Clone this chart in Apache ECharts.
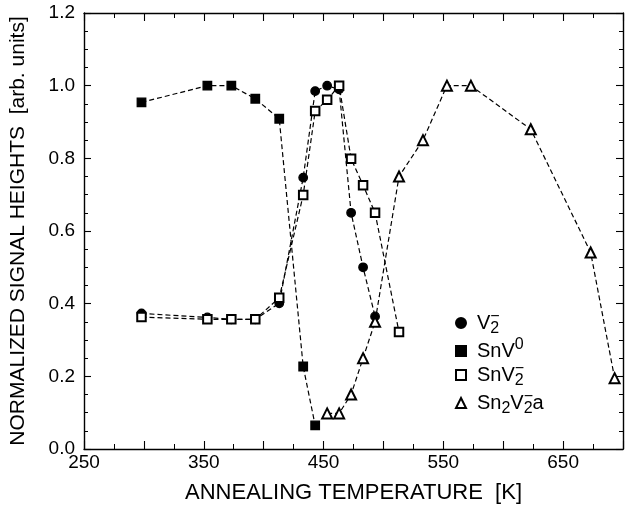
<!DOCTYPE html>
<html>
<head>
<meta charset="utf-8">
<script src="https://cdn.jsdelivr.net/npm/echarts@6/dist/echarts.min.js"></script>
<style>
    html, body { margin: 0; padding: 0; background: #fff; }
    #chart { width: 625px; height: 510px; }
</style>
</head>
<body>
<div id="chart"></div>
<script>
// temperatures [K] and normalized heights
const tempV2 = [298, 353, 373, 393, 413, 433, 443, 453, 463, 473, 483, 493]
const heightV2 = [0.373, 0.362, 0.357, 0.357, 0.401, 0.747, 0.985, 1.0, 0.99, 0.65, 0.50, 0.365]

const tempSnV0 = [298, 353, 373, 393, 413, 433, 443]
const heightSnV0 = [0.954, 1.0, 1.0, 0.964, 0.909, 0.227, 0.065]

const tempSnV2 = [298, 353, 373, 393, 413, 433, 443, 453, 463, 473, 483, 493, 513]
const heightSnV2 = [0.363, 0.357, 0.357, 0.357, 0.416, 0.699, 0.930, 0.961, 1.0, 0.799, 0.726, 0.65, 0.322]

const tempSn2V2a = [453, 463, 473, 483, 493, 513, 533, 553, 573, 623, 673, 693]
const heightSn2V2a = [0.098, 0.098, 0.15, 0.25, 0.35, 0.75, 0.85, 1.0, 1.0, 0.88, 0.541, 0.195]

const xTickLabels = [250, 350, 450, 550, 650]

const FONT = '"Liberation Sans", Arial, Helvetica, sans-serif'

const zip = (xs, ys) => xs.map((x, i) => [x, ys[i]])

const legendText = {
    V2: '{m|V}{sup0|−}{sub|2}',
    SnV0: '{m|SnV}{sup|0}',
    SnV2: '{m|SnV}{sup0|−}{sub|2}',
    Sn2V2a: '{m|Sn}{sub|2}{m|V}{sup0|−}{sub|2}{m|a}',
}

const baseLine = {
    type: 'line',
    symbolSize: 8.5,
    showAllSymbol: true,
    lineStyle: { color: '#000', width: 1.2, type: [5, 3] },
    itemStyle: { color: '#000', borderColor: '#000', borderWidth: 1.3 },
    emphasis: { disabled: true },
    z: 3,
}

const xAxisBase = {
    type: 'value',
    min: 250,
    max: 700,
    interval: 50,
    axisLine: { show: true, onZero: false, lineStyle: { color: '#000', width: 1.4 } },
    axisTick: { show: true, inside: true, length: 8, lineStyle: { color: '#000', width: 1.1 } },
    minorTick: { show: true, splitNumber: 2, length: 5, lineStyle: { color: '#000', width: 1 } },
    splitLine: { show: false },
}

const yAxisBase = {
    type: 'value',
    min: 0,
    max: 1.2,
    interval: 0.2,
    axisLine: { show: true, onZero: false, lineStyle: { color: '#000', width: 1.4 } },
    axisTick: { show: true, inside: true, length: 7, lineStyle: { color: '#000', width: 1.1 } },
    minorTick: { show: true, splitNumber: 4, length: 4, lineStyle: { color: '#000', width: 1 } },
    splitLine: { show: false },
}

const chart = echarts.init(document.getElementById('chart'))
chart.setOption({
    backgroundColor: '#fff',
    animation: false,
    textStyle: { fontFamily: FONT },
    grid: { left: 83, right: 2, top: 13, bottom: 61, containLabel: false },
    xAxis: [
        {
            ...xAxisBase,
            position: 'bottom',
            name: 'ANNEALING TEMPERATURE  [K]',
            nameLocation: 'middle',
            nameGap: 33,
            nameTextStyle: { color: '#000', fontSize: 22, fontFamily: FONT },
            axisLabel: {
                color: '#000',
                fontSize: 19,
                fontFamily: FONT,
                margin: 4,
                showMaxLabel: false,
                formatter: (v) => (xTickLabels.includes(v) ? String(v) : ''),
            },
        },
        {
            ...xAxisBase,
            position: 'top',
            axisLabel: { show: false },
        },
    ],
    yAxis: [
        {
            ...yAxisBase,
            position: 'left',
            name: 'NORMALIZED SIGNAL HEIGHTS  [arb. units]',
            nameLocation: 'middle',
            nameGap: 55,
            nameTextStyle: { color: '#000', fontSize: 21, fontFamily: FONT },
            axisLabel: {
                color: '#000',
                fontSize: 19,
                fontFamily: FONT,
                margin: 9,
                formatter: (v) => v.toFixed(1),
            },
        },
        {
            ...yAxisBase,
            position: 'right',
            axisLabel: { show: false },
        },
    ],
    legend: {
        orient: 'vertical',
        left: 455,
        top: 309,
        padding: 0,
        itemGap: 0,
        itemWidth: 10,
        itemHeight: 10,
        selectedMode: false,
        data: [
            { name: 'V2', icon: 'circle' },
            { name: 'SnV0', icon: 'rect' },
            { name: 'SnV2', icon: 'emptyRect' },
            { name: 'Sn2V2a', icon: 'emptyTriangle' },
        ],
        formatter: (name) => legendText[name],
        textStyle: {
            color: '#000',
            fontFamily: FONT,
            padding: [0, 0, 0, 6],
            rich: {
                m: { fontSize: 20, lineHeight: 28, fontFamily: FONT, color: '#000', verticalAlign: 'middle' },
                sub: { fontSize: 16, lineHeight: 14, fontFamily: FONT, color: '#000', verticalAlign: 'bottom' },
                sup: { fontSize: 16, lineHeight: 14, fontFamily: FONT, color: '#000', verticalAlign: 'top' },
                sup0: { fontSize: 16, lineHeight: 14, fontFamily: FONT, color: '#000', verticalAlign: 'top', width: 0 },
            },
        },
    },
    series: [
        {
            ...baseLine,
            name: 'V2',
            symbol: 'circle',
            data: zip(tempV2, heightV2),
        },
        {
            ...baseLine,
            name: 'SnV0',
            symbol: 'rect',
            data: zip(tempSnV0, heightSnV0),
        },
        {
            ...baseLine,
            name: 'SnV2',
            symbol: 'emptyRect',
            data: zip(tempSnV2, heightSnV2),
        },
        {
            ...baseLine,
            name: 'Sn2V2a',
            symbol: 'emptyTriangle',
            symbolSize: 10,
            data: zip(tempSn2V2a, heightSn2V2a),
        },
    ],
})
</script>
</body>
</html>
